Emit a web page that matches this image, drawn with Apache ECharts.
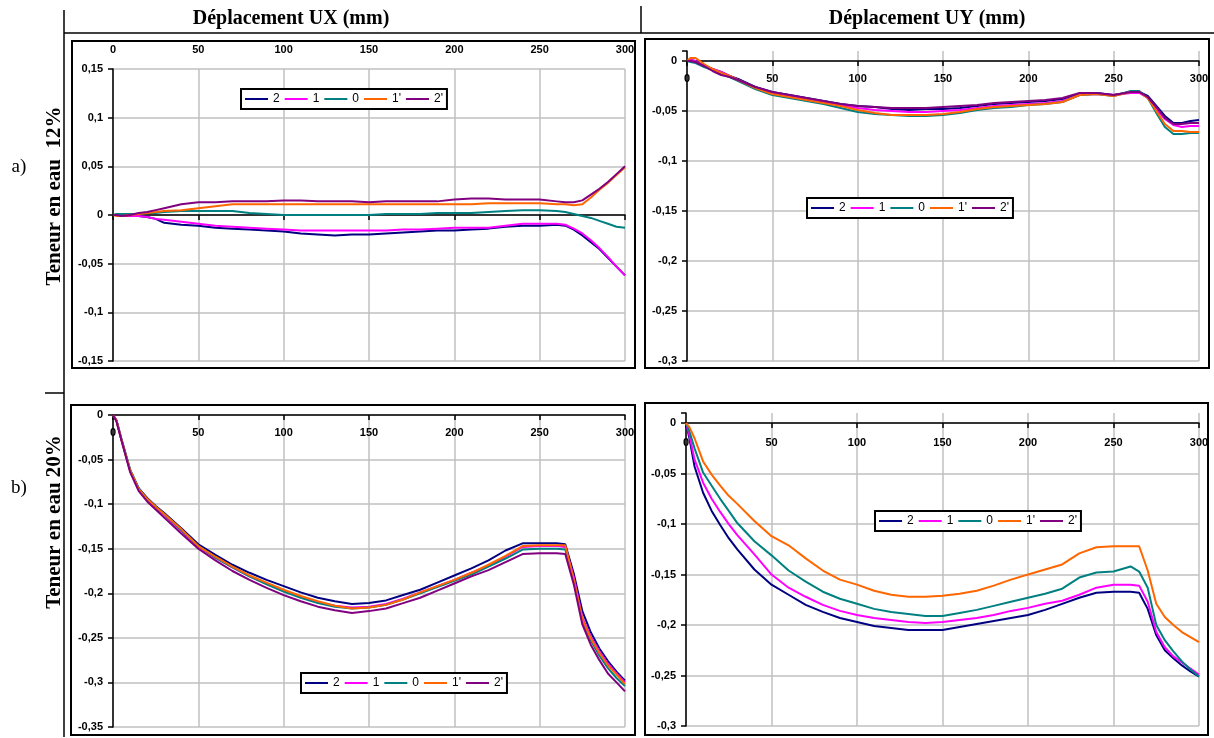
<!DOCTYPE html>
<html><head><meta charset="utf-8">
<script src="https://cdn.jsdelivr.net/npm/echarts@6/dist/echarts.min.js"></script>
<style>html,body{margin:0;padding:0;background:#fff}#c{width:1214px;height:738px}</style>
</head><body><div id="c"></div>
<script>
// ---- data ----
const seriesNames = ['2', '1', '0', "1'", "2'"];
const seriesColors = ['#000080', '#FF00FF', '#008080', '#FF6600', '#800080'];
const xPos = [0,2,5,10,15,20,25,30, 40,50,60,70,80,90,100,110,120,130,140,150,160,170,180,190,200,210,220,230,240,250, 260,265,270,275,280,285,290,295,300];
const colHeaders = ['Déplacement UX (mm)', 'Déplacement UY (mm)'];
const rowLabels = ['Teneur en eau  12%', 'Teneur en eau 20%'];
const rowTags = ['a)', 'b)'];

// UX, water content 12%
const ux12_2  = [0,0,-0.001,-0.001,-0.001,-0.002,-0.004,-0.008, -0.010,-0.011,-0.013,-0.014,-0.015,-0.016,-0.017,-0.019,-0.020,-0.021,-0.020,-0.020,-0.019,-0.018,-0.017,-0.016,-0.016,-0.015,-0.014,-0.012,-0.011,-0.011, -0.010,-0.011,-0.015,-0.021,-0.028,-0.035,-0.044,-0.053,-0.062];
const ux12_1  = [0,0,0,-0.001,-0.001,-0.002,-0.004,-0.005, -0.007,-0.009,-0.011,-0.012,-0.013,-0.014,-0.015,-0.016,-0.016,-0.016,-0.016,-0.016,-0.016,-0.015,-0.015,-0.014,-0.013,-0.013,-0.013,-0.011,-0.009,-0.009, -0.009,-0.010,-0.014,-0.019,-0.026,-0.034,-0.043,-0.053,-0.062];
const ux12_0  = [0,0.001,0.001,0.001,0.001,0.002,0.002,0.003, 0.004,0.004,0.004,0.004,0.002,0.001,0,0,0,0,0,0,0.001,0.001,0.001,0.002,0.002,0.002,0.003,0.004,0.005,0.005, 0.004,0.003,0.001,-0.001,-0.003,-0.006,-0.009,-0.012,-0.013];
const ux12_1p = [0,-0.001,-0.001,0,0.001,0.002,0.003,0.004, 0.005,0.007,0.009,0.011,0.011,0.011,0.011,0.011,0.011,0.011,0.011,0.011,0.011,0.011,0.011,0.011,0.011,0.011,0.012,0.012,0.012,0.012, 0.011,0.011,0.010,0.011,0.018,0.026,0.033,0.041,0.049];
const ux12_2p = [0,0,-0.001,0,0.002,0.003,0.005,0.007, 0.011,0.013,0.013,0.014,0.014,0.014,0.015,0.015,0.014,0.014,0.014,0.013,0.014,0.014,0.014,0.014,0.016,0.017,0.017,0.016,0.016,0.016, 0.014,0.013,0.013,0.015,0.021,0.027,0.034,0.042,0.050];

// UY, water content 12%
const uy12_2  = [0,0.001,0,-0.005,-0.008,-0.011,-0.015,-0.018, -0.026,-0.031,-0.034,-0.037,-0.040,-0.043,-0.045,-0.046,-0.048,-0.049,-0.048,-0.048,-0.047,-0.045,-0.043,-0.042,-0.041,-0.040,-0.038,-0.033,-0.032,-0.034, -0.031,-0.031,-0.035,-0.045,-0.055,-0.062,-0.062,-0.060,-0.059];
const uy12_1  = [0,0.001,0,-0.005,-0.008,-0.011,-0.015,-0.019, -0.027,-0.032,-0.035,-0.038,-0.041,-0.044,-0.047,-0.049,-0.050,-0.051,-0.051,-0.050,-0.049,-0.047,-0.045,-0.044,-0.043,-0.042,-0.040,-0.034,-0.033,-0.034, -0.032,-0.032,-0.037,-0.048,-0.058,-0.064,-0.066,-0.065,-0.065];
const uy12_0  = [0,-0.001,-0.002,-0.006,-0.009,-0.013,-0.016,-0.020, -0.028,-0.034,-0.037,-0.040,-0.043,-0.047,-0.051,-0.053,-0.054,-0.055,-0.055,-0.054,-0.052,-0.049,-0.047,-0.046,-0.044,-0.043,-0.041,-0.034,-0.033,-0.035, -0.030,-0.030,-0.037,-0.052,-0.066,-0.073,-0.073,-0.072,-0.072];
const uy12_1p = [0,0.003,0.003,-0.003,-0.008,-0.012,-0.015,-0.019, -0.027,-0.033,-0.036,-0.039,-0.042,-0.045,-0.049,-0.052,-0.054,-0.054,-0.054,-0.053,-0.051,-0.048,-0.046,-0.045,-0.044,-0.043,-0.041,-0.034,-0.033,-0.035, -0.031,-0.031,-0.037,-0.050,-0.063,-0.070,-0.070,-0.071,-0.071];
const uy12_2p = [0,0,-0.001,-0.005,-0.010,-0.014,-0.016,-0.019, -0.026,-0.031,-0.034,-0.037,-0.040,-0.043,-0.045,-0.046,-0.047,-0.047,-0.047,-0.046,-0.045,-0.044,-0.042,-0.041,-0.040,-0.039,-0.037,-0.032,-0.032,-0.034, -0.031,-0.031,-0.036,-0.046,-0.057,-0.063,-0.063,-0.062,-0.062];

// UX, water content 20%
const ux20_2  = [0,-0.006,-0.028,-0.062,-0.082,-0.093,-0.102,-0.110, -0.127,-0.145,-0.157,-0.168,-0.177,-0.185,-0.192,-0.199,-0.205,-0.209,-0.212,-0.211,-0.208,-0.202,-0.196,-0.188,-0.180,-0.172,-0.163,-0.152,-0.144,-0.144, -0.144,-0.145,-0.178,-0.220,-0.244,-0.262,-0.276,-0.288,-0.298];
const ux20_1  = [0,-0.006,-0.028,-0.062,-0.083,-0.095,-0.104,-0.112, -0.130,-0.148,-0.160,-0.171,-0.181,-0.189,-0.197,-0.204,-0.210,-0.214,-0.216,-0.215,-0.212,-0.206,-0.199,-0.192,-0.185,-0.177,-0.169,-0.159,-0.148,-0.147, -0.147,-0.148,-0.182,-0.227,-0.249,-0.265,-0.279,-0.290,-0.300];
const ux20_0  = [0,-0.006,-0.027,-0.061,-0.082,-0.094,-0.103,-0.111, -0.129,-0.147,-0.160,-0.171,-0.181,-0.190,-0.198,-0.205,-0.211,-0.215,-0.217,-0.216,-0.213,-0.207,-0.200,-0.193,-0.186,-0.179,-0.170,-0.161,-0.151,-0.150, -0.150,-0.151,-0.186,-0.231,-0.253,-0.270,-0.284,-0.295,-0.304];
const ux20_1p = [0,-0.006,-0.028,-0.062,-0.083,-0.094,-0.103,-0.111, -0.128,-0.147,-0.159,-0.170,-0.180,-0.188,-0.196,-0.203,-0.209,-0.214,-0.217,-0.216,-0.213,-0.207,-0.199,-0.192,-0.185,-0.177,-0.168,-0.158,-0.147,-0.146, -0.146,-0.146,-0.185,-0.229,-0.251,-0.267,-0.281,-0.291,-0.302];
const ux20_2p = [0,-0.007,-0.029,-0.064,-0.085,-0.097,-0.106,-0.115, -0.133,-0.150,-0.163,-0.175,-0.185,-0.194,-0.202,-0.209,-0.215,-0.219,-0.222,-0.220,-0.217,-0.211,-0.205,-0.197,-0.189,-0.181,-0.174,-0.165,-0.156,-0.155, -0.155,-0.156,-0.190,-0.235,-0.258,-0.275,-0.290,-0.300,-0.310];

// UY, water content 20%
const uy20_2  = [0,-0.015,-0.043,-0.069,-0.087,-0.101,-0.114,-0.125, -0.145,-0.160,-0.170,-0.180,-0.187,-0.193,-0.197,-0.201,-0.203,-0.205,-0.205,-0.205,-0.202,-0.199,-0.196,-0.193,-0.190,-0.185,-0.179,-0.173,-0.168,-0.167, -0.167,-0.168,-0.184,-0.210,-0.225,-0.233,-0.240,-0.246,-0.251];
const uy20_1  = [0,-0.012,-0.036,-0.059,-0.075,-0.088,-0.100,-0.111, -0.130,-0.150,-0.163,-0.172,-0.180,-0.186,-0.190,-0.193,-0.195,-0.197,-0.198,-0.197,-0.195,-0.193,-0.190,-0.186,-0.183,-0.179,-0.176,-0.170,-0.163,-0.160, -0.160,-0.161,-0.177,-0.207,-0.222,-0.231,-0.237,-0.243,-0.249];
const uy20_0  = [0,-0.008,-0.025,-0.049,-0.062,-0.075,-0.087,-0.099, -0.117,-0.131,-0.146,-0.157,-0.167,-0.174,-0.179,-0.184,-0.187,-0.189,-0.191,-0.191,-0.188,-0.185,-0.181,-0.177,-0.173,-0.169,-0.164,-0.153,-0.148,-0.147, -0.142,-0.147,-0.163,-0.200,-0.215,-0.226,-0.236,-0.244,-0.251];
const uy20_1p = [0,-0.004,-0.015,-0.038,-0.051,-0.062,-0.072,-0.080, -0.097,-0.112,-0.121,-0.134,-0.146,-0.155,-0.160,-0.166,-0.170,-0.172,-0.172,-0.171,-0.169,-0.166,-0.161,-0.155,-0.150,-0.145,-0.140,-0.129,-0.123,-0.122, -0.122,-0.122,-0.146,-0.179,-0.192,-0.200,-0.207,-0.212,-0.217];
const uy20_2p = [];

// ---- chart ----
const GRAY = '#c0c0c0';
const lab = { color: '#000', fontFamily: 'Arial', fontWeight: 'bold', fontSize: 11 };
function fmt(v) {
  if (Math.abs(v * 20 - Math.round(v * 20)) > 1e-6) return '';
  const r = Math.round(v * 100) / 100;
  if (r === 0) return '0';
  return String(r).replace('.', ',');
}

const panels = [
  { grid: { left: 113, top: 69, width: 512, height: 292 }, ymin: -0.15, ymax: 0.15, labelInside: false, labelMargin: 14, data: [ux12_2, ux12_1, ux12_0, ux12_1p, ux12_2p] },
  { grid: { left: 687, top: 51, width: 512, height: 310 }, ymin: -0.3, ymax: 0.01, labelInside: true, labelMargin: 22, data: [uy12_2, uy12_1, uy12_0, uy12_1p, uy12_2p] },
  { grid: { left: 113, top: 415, width: 512, height: 312 }, ymin: -0.35, ymax: 0, labelInside: true, labelMargin: 12, data: [ux20_2, ux20_1, ux20_0, ux20_1p, ux20_2p] },
  { grid: { left: 686, top: 413, width: 513, height: 313 }, ymin: -0.3, ymax: 0.01, labelInside: true, labelMargin: 24, data: [uy20_2, uy20_1, uy20_0, uy20_1p, uy20_2p] }
];

const xAxes = [];
panels.forEach((p, gi) => {
  // labels + vertical grid lines, at the top edge
  xAxes.push({ gridIndex: gi, type: 'value', min: 0, max: 300, interval: 50, position: 'top',
    axisLine: { show: false, onZero: false }, axisTick: { show: false },
    axisLabel: Object.assign({ margin: p.labelMargin, inside: p.labelInside }, lab),
    splitLine: { show: true, lineStyle: { color: GRAY, width: 1.5 } } });
  // axis line sitting on y = 0
  xAxes.push({ gridIndex: gi, type: 'value', min: 0, max: 300, interval: 50, position: 'bottom',
    axisLine: { show: true, onZero: true, lineStyle: { color: '#000', width: 1.5 } },
    axisTick: { show: true, length: 5, lineStyle: { color: '#000', width: 1.5 } },
    axisLabel: { show: false }, splitLine: { show: false } });
});

const yAxes = panels.map((p, gi) => ({
  gridIndex: gi, type: 'value', min: p.ymin, max: p.ymax, interval: 0.05, position: 'left',
  axisLine: { show: true, onZero: false, lineStyle: { color: '#000', width: 1.5 } },
  axisTick: { show: true, length: 5, lineStyle: { color: '#000', width: 1.5 } },
  axisLabel: Object.assign({ margin: 10, formatter: fmt }, lab),
  splitLine: { show: true, showMaxLine: p.ymax === 0.01 ? false : true, lineStyle: { color: GRAY, width: 1.5 } }
}));

const series = [];
panels.forEach((p, pi) => {
  p.data.forEach((arr, k) => {
    series.push({
      type: 'line', name: seriesNames[k], xAxisIndex: pi * 2, yAxisIndex: pi,
      data: arr.map((v, i) => [xPos[i], v]),
      showSymbol: false, symbol: 'none', animation: false, z: 2 + k,
      lineStyle: { width: 2, color: seriesColors[k] }, itemStyle: { color: seriesColors[k] }
    });
  });
});

const legendPos = [[241, 89], [807, 198], [301, 673], [875, 511]];
const legends = legendPos.map(([l, t]) => ({
  left: l, top: t, orient: 'horizontal', data: seriesNames, icon: 'rect',
  itemWidth: 23, itemHeight: 2, itemGap: 5, padding: [4, 4],
  backgroundColor: '#fff', borderColor: '#000', borderWidth: 2, selectedMode: false,
  textStyle: { color: '#000', fontFamily: 'Arial', fontSize: 12 }
}));

const boxes = [[72, 41, 563, 327], [645, 39, 564, 329], [71, 405, 564, 330], [645, 403, 563, 332]];
const graphics = [];
boxes.forEach(([x, y, w, h]) => graphics.push({ type: 'rect', z: 50, shape: { x, y, width: w, height: h }, style: { fill: 'transparent', stroke: '#000', lineWidth: 2 } }));
[[64, 10, 64, 737], [64, 33, 1214, 33], [641, 6, 641, 33], [45, 393, 64, 393]].forEach(([x1, y1, x2, y2]) =>
  graphics.push({ type: 'line', z: 50, shape: { x1, y1, x2, y2 }, style: { stroke: '#000', lineWidth: 1.5 } }));
graphics.push({ type: 'text', x: 291, y: 19, style: { text: colHeaders[0], font: 'bold 20px "Liberation Serif"', fill: '#000', textAlign: 'center', textVerticalAlign: 'middle' } });
graphics.push({ type: 'text', x: 927, y: 19, style: { text: colHeaders[1], font: 'bold 20px "Liberation Serif"', fill: '#000', textAlign: 'center', textVerticalAlign: 'middle' } });
graphics.push({ type: 'text', x: 55, y: 196, rotation: Math.PI / 2, style: { text: rowLabels[0], font: 'bold 21px "Liberation Serif"', fill: '#000', textAlign: 'center', textVerticalAlign: 'middle' } });
graphics.push({ type: 'text', x: 55, y: 522, rotation: Math.PI / 2, style: { text: rowLabels[1], font: 'bold 21px "Liberation Serif"', fill: '#000', textAlign: 'center', textVerticalAlign: 'middle' } });
graphics.push({ type: 'text', x: 19, y: 167, style: { text: rowTags[0], font: '19px "Liberation Serif"', fill: '#000', textAlign: 'center', textVerticalAlign: 'middle' } });
graphics.push({ type: 'text', x: 19, y: 488, style: { text: rowTags[1], font: '19px "Liberation Serif"', fill: '#000', textAlign: 'center', textVerticalAlign: 'middle' } });

const chart = echarts.init(document.getElementById('c'), null, { renderer: 'canvas' });
chart.setOption({
  backgroundColor: '#fff',
  animation: false,
  grid: panels.map(p => Object.assign({ containLabel: false }, p.grid)),
  xAxis: xAxes,
  yAxis: yAxes,
  legend: legends,
  series: series,
  graphic: { elements: graphics }
});
</script></body></html>
